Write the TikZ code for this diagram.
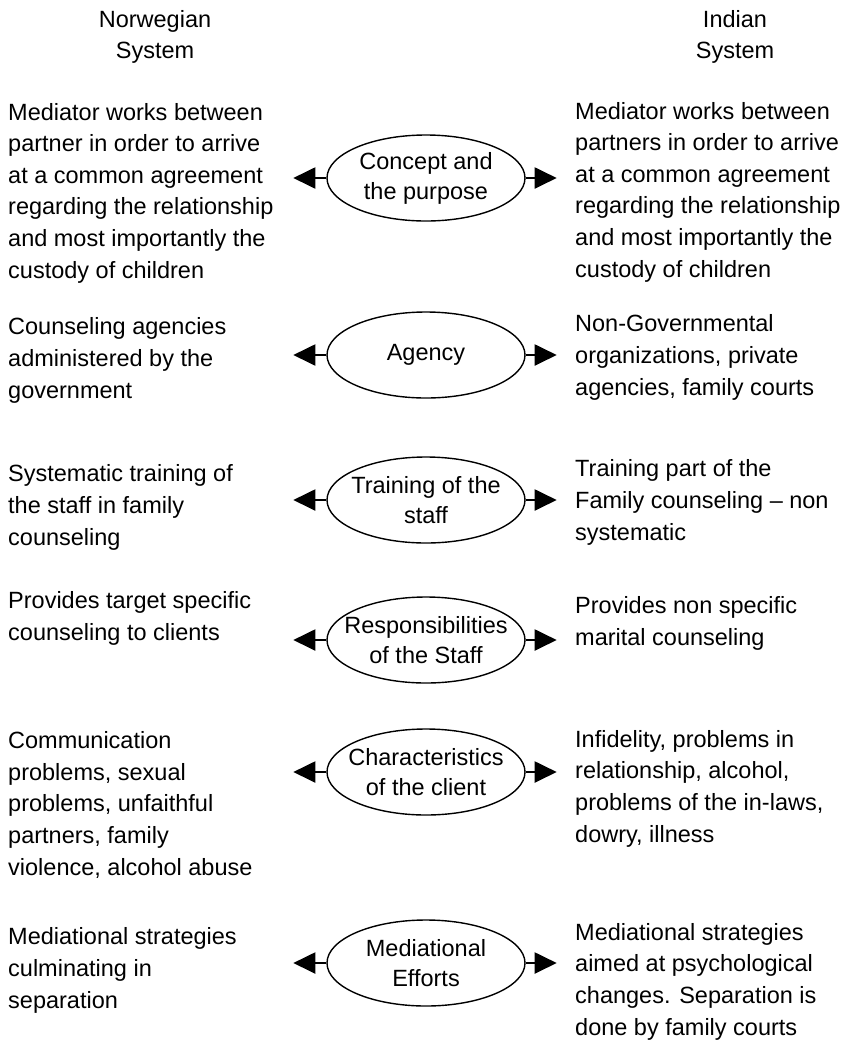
\documentclass[tikz,border=0pt]{standalone}
\usepackage{fontspec}
\setmainfont{Liberation Sans}
\usetikzlibrary{shapes.geometric,arrows.meta}
\tikzset{
  para/.style={anchor=base west, align=left, inner sep=0pt,
    font={\fontsize{23.5}{31.6}\selectfont}},
  head/.style={anchor=base, align=center, inner sep=0pt,
    font={\fontsize{23.5}{31}\selectfont}},
  topic/.style={draw, ellipse, line width=1.4pt, minimum width=198pt,
    minimum height=86pt, inner sep=0pt},
  topictext/.style={align=center, inner sep=0pt,
    font={\fontsize{23.5}{30}\selectfont}},
  link/.style={line width=2pt, -{Triangle[length=22pt,width=21pt]}}
}
\begin{document}
\begin{tikzpicture}[x=1pt,y=-1pt]
\useasboundingbox (0,0) rectangle (856,1042);
% headings (base anchor = baseline of last line)
\node[head] (hn) at (155,58) {Norwegian\\System};
\node[head] (hi) at (735,58) {Indian\\System};
% left column
\node[para] (l1) at (8,278) {Mediator works between\\partner in order to arrive\\at a common agreement\\regarding the relationship\\and most importantly the\\custody of children};
\node[para] (l2) at (8,398) {Counseling agencies\\administered by the\\government};
\node[para] (l3) at (8,545) {Systematic training of\\the staff in family\\counseling};
\node[para] (l4) at (8,640) {Provides target specific\\counseling to clients};
\node[para] (l5) at (8,875) {Communication\\problems, sexual\\problems, unfaithful\\partners, family\\violence, alcohol abuse};
\node[para] (l6) at (8,1008) {Mediational strategies\\culminating in\\separation};
% right column
\node[para] (r1) at (575,277) {Mediator works between\\partners in order to arrive\\at a common agreement\\regarding the relationship\\and most importantly the\\custody of children};
\node[para] (r2) at (575,395) {Non-Governmental\\organizations, private\\agencies, family courts};
\node[para] (r3) at (575,540) {Training part of the\\Family counseling -- non\\systematic};
\node[para] (r4) at (575,645) {Provides non specific\\marital counseling};
\node[para] (r5) at (575,842) {Infidelity, problems in\\relationship, alcohol,\\problems of the in-laws,\\dowry, illness};
\node[para] (r6) at (575,1035) {Mediational strategies\\aimed at psychological\\changes. Separation is\\done by family courts};
% ellipses
\node[topic] (e1) at (426,178) {};
\node[topic] (e2) at (426,355) {};
\node[topic] (e3) at (426,500) {};
\node[topic] (e4) at (426,640) {};
\node[topic] (e5) at (426,772) {};
\node[topic] (e6) at (426,963) {};
\node[topictext] (t1) at (e1.center) {Concept and\\the purpose};
\node[topictext] (t2) at (e2.center) {Agency};
\node[topictext] (t3) at (e3.center) {Training of the\\staff};
\node[topictext] (t4) at (e4.center) {Responsibilities\\of the Staff};
\node[topictext] (t5) at (e5.center) {Characteristics\\of the client};
\node[topictext] (t6) at (e6.center) {Mediational\\Efforts};
% arrows
\foreach \e in {e1,e2,e3,e4,e5,e6}{
  \path (\e.west) ++(-33,0) coordinate (\e L);
  \path (\e.east) ++(31,0) coordinate (\e R);
  \draw[link] (\e.west) -- (\e L);
  \draw[link] (\e.east) -- (\e R);
}
\end{tikzpicture}
\end{document}
